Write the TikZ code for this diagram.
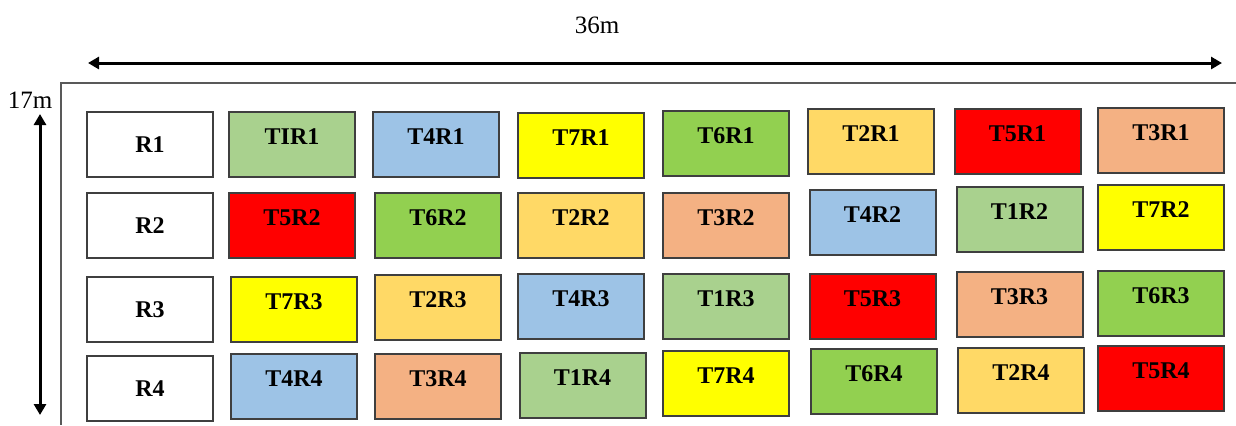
\documentclass[tikz,border=0pt]{standalone}
\usepackage{fontspec}
\setmainfont{Liberation Serif}
\usetikzlibrary{arrows.meta}
\definecolor{tone}{HTML}{A9D18E}
\definecolor{ttwo}{HTML}{FFD966}
\definecolor{tthree}{HTML}{F4B183}
\definecolor{tfour}{HTML}{9DC3E6}
\definecolor{tfive}{HTML}{FF0000}
\definecolor{tsix}{HTML}{92D050}
\definecolor{tseven}{HTML}{FFFF00}
\definecolor{edge}{HTML}{3F3F3F}

\begin{document}
\begin{tikzpicture}[
    x=0.5pt, y=-0.5pt,
    >={Triangle[length=5.5pt,width=6pt]},
    rep/.style={draw=edge, line width=1pt, rectangle, minimum width=63pt, minimum height=32.5pt, fill=white, font=\fontsize{12}{14}\selectfont\bfseries},
    plot/.style={rep, fill=#1, text height=9pt, text depth=9pt},
    dim/.style={<->, line width=1.5pt},
    dimlabel/.style={font=\fontsize{12.5}{15}\selectfont}
]
\useasboundingbox (0,0) rectangle (1236,425);

% Field outline
\draw[line width=1pt, gray!70!black] (1236,83) -- (61,83) -- (61,425);

% Dimensions
\coordinate (wl) at (88,63);
\coordinate (wr) at (1222,63);
\coordinate (ht) at (40,114);
\coordinate (hb) at (40,415);
\draw[dim] (wl) -- (wr);
\draw[dim] (ht) -- (hb);
\node[dimlabel] (width) at (597,25) {36m};
\node[dimlabel] (height) at (30,100) {17m};

% Replications
\node[rep] (r1) at (150,144.5) {R1};
\node[rep] (r2) at (150,225.5) {R2};
\node[rep] (r3) at (150,309.5) {R3};
\node[rep] (r4) at (150,388.5) {R4};

% Replication 1
\node[plot=tone] (t1r1) at (292,144.5) {TIR1};
\node[plot=tfour] (t4r1) at (436,144.5) {T4R1};
\node[plot=tseven] (t7r1) at (581,145) {T7R1};
\node[plot=tsix] (t6r1) at (726,143.5) {T6R1};
\node[plot=ttwo] (t2r1) at (871,141.5) {T2R1};
\node[plot=tfive] (t5r1) at (1017.5,141.5) {T5R1};
\node[plot=tthree] (t3r1) at (1161,140.5) {T3R1};

% Replication 2
\node[plot=tfive] (t5r2) at (292,225.5) {T5R2};
\node[plot=tsix] (t6r2) at (438,225.5) {T6R2};
\node[plot=ttwo] (t2r2) at (581,225.5) {T2R2};
\node[plot=tthree] (t3r2) at (726,225.5) {T3R2};
\node[plot=tfour] (t4r2) at (872.5,222) {T4R2};
\node[plot=tone] (t1r2) at (1019.5,219.5) {T1R2};
\node[plot=tseven] (t7r2) at (1161,217.5) {T7R2};

% Replication 3
\node[plot=tseven] (t7r3) at (294,309.5) {T7R3};
\node[plot=ttwo] (t2r3) at (438,307.5) {T2R3};
\node[plot=tfour] (t4r3) at (581,306) {T4R3};
\node[plot=tone] (t1r3) at (726,306) {T1R3};
\node[plot=tfive] (t5r3) at (872.5,306) {T5R3};
\node[plot=tthree] (t3r3) at (1019.5,304.5) {T3R3};
\node[plot=tsix] (t6r3) at (1161,303) {T6R3};

% Replication 4
\node[plot=tfour] (t4r4) at (294,386.5) {T4R4};
\node[plot=tthree] (t3r4) at (438,386.5) {T3R4};
\node[plot=tone] (t1r4) at (582.5,385.5) {T1R4};
\node[plot=tseven] (t7r4) at (726,383.5) {T7R4};
\node[plot=tsix] (t6r4) at (874,381.5) {T6R4};
\node[plot=ttwo] (t2r4) at (1021,380.5) {T2R4};
\node[plot=tfive] (t5r4) at (1161,378.5) {T5R4};

\end{tikzpicture}
\end{document}
